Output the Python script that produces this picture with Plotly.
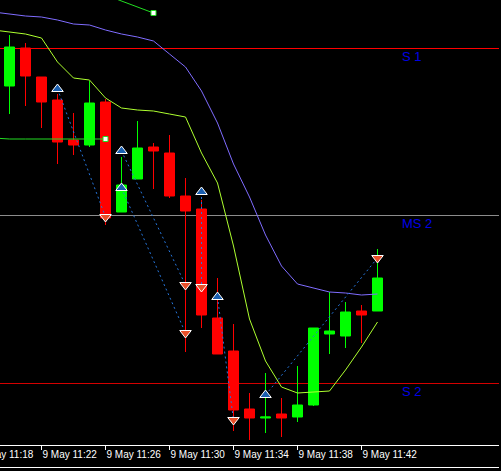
import plotly.graph_objects as go
import pandas as pd

# ---- data ----
candle_times = pd.date_range("2024-05-09 11:20", periods=24, freq="min")
opens  = [2391.4, 2395.2, 2392.3, 2390.0, 2386.0, 2385.5, 2389.8, 2378.8, 2382.1, 2385.3, 2384.7, 2380.4,
          2379.1, 2368.2, 2364.9, 2359.1, 2358.2, 2358.6, 2358.3, 2359.5, 2366.6, 2366.4, 2368.9, 2368.9]
highs  = [2396.5, 2395.7, 2392.3, 2390.6, 2388.7, 2391.9, 2390.1, 2384.3, 2387.9, 2385.7, 2386.5, 2382.2,
          2380.0, 2372.2, 2367.6, 2360.7, 2362.7, 2360.2, 2363.4, 2367.2, 2370.8, 2369.8, 2369.5, 2375.1]
lows   = [2388.6, 2389.4, 2387.2, 2383.6, 2384.5, 2385.3, 2377.5, 2378.8, 2382.1, 2381.1, 2380.2, 2364.8,
          2367.2, 2364.6, 2356.9, 2356.0, 2356.7, 2356.3, 2357.8, 2359.4, 2364.6, 2365.2, 2365.7, 2368.9]
closes = [2395.3, 2392.4, 2389.8, 2385.8, 2385.5, 2389.7, 2378.2, 2381.5, 2385.2, 2384.9, 2380.4, 2378.9,
          2368.5, 2364.6, 2359.0, 2358.2, 2358.3, 2358.2, 2359.5, 2367.2, 2366.9, 2368.8, 2368.5, 2372.2]

line_times = pd.date_range("2024-05-09 11:19", periods=25, freq="min")
yellow_line = [2397.0, 2396.8, 2396.6, 2396.2, 2393.8, 2392.2, 2392.0, 2390.2, 2389.2, 2389.0, 2388.9, 2388.6,
               2388.3, 2384.7, 2381.7, 2375.4, 2368.1, 2363.9, 2361.3, 2360.7, 2360.8, 2360.9, 2363.0, 2365.3, 2367.8]
purple_line = [2398.8, 2398.6, 2398.4, 2398.3, 2398.0, 2397.6, 2397.5, 2397.0, 2396.6, 2396.3, 2395.9, 2394.6,
               2393.3, 2390.9, 2387.7, 2383.6, 2380.3, 2376.5, 2373.4, 2371.6, 2371.2, 2370.8, 2370.7, 2370.5, 2370.6]

stop1_times = pd.date_range("2024-05-09 11:19", periods=8, freq="min")
stop1_vals = [2386.2, 2386.1, 2386.1, 2386.1, 2386.1, 2386.1, 2386.1, 2386.1]
stop2_times = pd.date_range("2024-05-09 11:26", periods=4, freq="min")
stop2_vals = [2400.5, 2399.9, 2399.3, 2398.7]

# trades: open (buy arrow) and close (sell arrow)
buy_times  = ["11:23", "11:27", "11:27", "11:32", "11:33", "11:36"]
buy_prices = [2391.1, 2384.9, 2381.2, 2380.8, 2370.3, 2360.5]
sell_times  = ["11:26", "11:31", "11:31", "11:32", "11:34", "11:43"]
sell_prices = [2378.3, 2371.5, 2366.7, 2371.3, 2358.0, 2374.2]

levels = [("S 1", 2395.15, "#ff0000"), ("MS 2", 2378.45, "#8c8c8c"), ("S 2", 2361.65, "#d40000")]

tick_times = pd.date_range("2024-05-09 11:18", periods=7, freq="4min")
tick_text = ["9 May " + t.strftime("%H:%M") for t in tick_times]

day = "2024-05-09 "
x_range = [day + "11:19:24.375", day + "11:50:35.625"]
y_range = [2355.5, 2400.0]

# ---- figure ----
fig = go.Figure()

fig.add_trace(go.Scatter(x=line_times, y=purple_line, mode="lines",
                         line=dict(color="#7f6cff", width=1), hoverinfo="skip"))
fig.add_trace(go.Scatter(x=line_times, y=yellow_line, mode="lines",
                         line=dict(color="#adff2f", width=1), hoverinfo="skip"))

for t, v in ((stop1_times, stop1_vals), (stop2_times, stop2_vals)):
    fig.add_trace(go.Scatter(x=t, y=v, mode="lines", line=dict(color="#22dd22", width=1),
                             hoverinfo="skip"))
    fig.add_trace(go.Scatter(x=[t[-1]], y=[v[-1]], mode="markers",
                             marker=dict(symbol="square", size=5, color="white",
                                         line=dict(color="#22dd22", width=1)),
                             hoverinfo="skip"))

fig.add_trace(go.Candlestick(
    x=candle_times, open=opens, high=highs, low=lows, close=closes,
    increasing=dict(line=dict(color="#00ff00", width=1), fillcolor="#00ff00"),
    decreasing=dict(line=dict(color="#ff0000", width=1), fillcolor="#ff0000"),
    whiskerwidth=0, hoverinfo="skip"))

tx, ty = [], []
for bt, bp, st, sp in zip(buy_times, buy_prices, sell_times, sell_prices):
    tx += [day + bt, day + st, None]
    ty += [bp, sp, None]
fig.add_trace(go.Scatter(x=tx, y=ty, mode="lines",
                         line=dict(color="#2676dc", width=1, dash="2px,3px"), hoverinfo="skip"))

fig.add_trace(go.Scatter(x=[day + t for t in buy_times], y=buy_prices, mode="markers",
                         marker=dict(symbol="triangle-up", size=10, color="#1a5fb0",
                                     line=dict(color="white", width=1)), hoverinfo="skip"))
fig.add_trace(go.Scatter(x=[day + t for t in sell_times], y=sell_prices, mode="markers",
                         marker=dict(symbol="triangle-down", size=10, color="#e8502a",
                                     line=dict(color="white", width=1)), hoverinfo="skip"))

paper_h = 460.0           # drawing area height (plot + time scale)
plot_bottom = 15.0 / paper_h

shapes = []
annotations = []
for name, val, col in levels:
    shapes.append(dict(type="line", xref="paper", x0=0, x1=1, yref="y", y0=val, y1=val,
                       line=dict(color=col, width=1), layer="below"))
    annotations.append(dict(x=day + "11:44:25", y=val, xref="x", yref="y", text=name,
                            showarrow=False, xanchor="left", yanchor="top", yshift=2,
                            font=dict(family="Liberation Sans, Arial", size=13, color="#0000e6")))
# bottom frame line below the time labels (7 px below the drawing area)
shapes.append(dict(type="rect", xref="paper", x0=0, x1=1, yref="paper",
                   y0=-8 / paper_h, y1=-7 / paper_h, line=dict(width=0), fillcolor="white"))
# first time label, whose tick lies just left of the visible range
annotations.append(dict(x=-23 / 499, y=plot_bottom, xref="paper", yref="paper", text=tick_text[0],
                        showarrow=False, xanchor="left", yanchor="top", yshift=-2,
                        font=dict(family="Liberation Sans, Arial", size=10, color="white")))

fig.update_layout(
    width=501, height=471,
    margin=dict(l=0, r=2, t=0, b=11),
    paper_bgcolor="black", plot_bgcolor="black",
    showlegend=False,
    boxgap=0.375, boxgroupgap=0,
    shapes=shapes, annotations=annotations,
    xaxis=dict(type="date", range=x_range, rangeslider=dict(visible=False),
               showgrid=False, zeroline=False,
               showline=True, linecolor="white", linewidth=1,
               ticks="outside", ticklen=4, tickcolor="white", tickwidth=1,
               tickvals=tick_times, ticktext=tick_text, tickangle=0,
               ticklabelposition="outside right",
               tickfont=dict(family="Liberation Sans, Arial", size=10, color="white")),
    yaxis=dict(range=y_range, domain=[plot_bottom, 1], visible=False,
               showgrid=False, zeroline=False),
)

fig.write_html("out.html", config={"displayModeBar": False},
               post_script="document.body.style.margin='0';document.body.style.background='black';")
